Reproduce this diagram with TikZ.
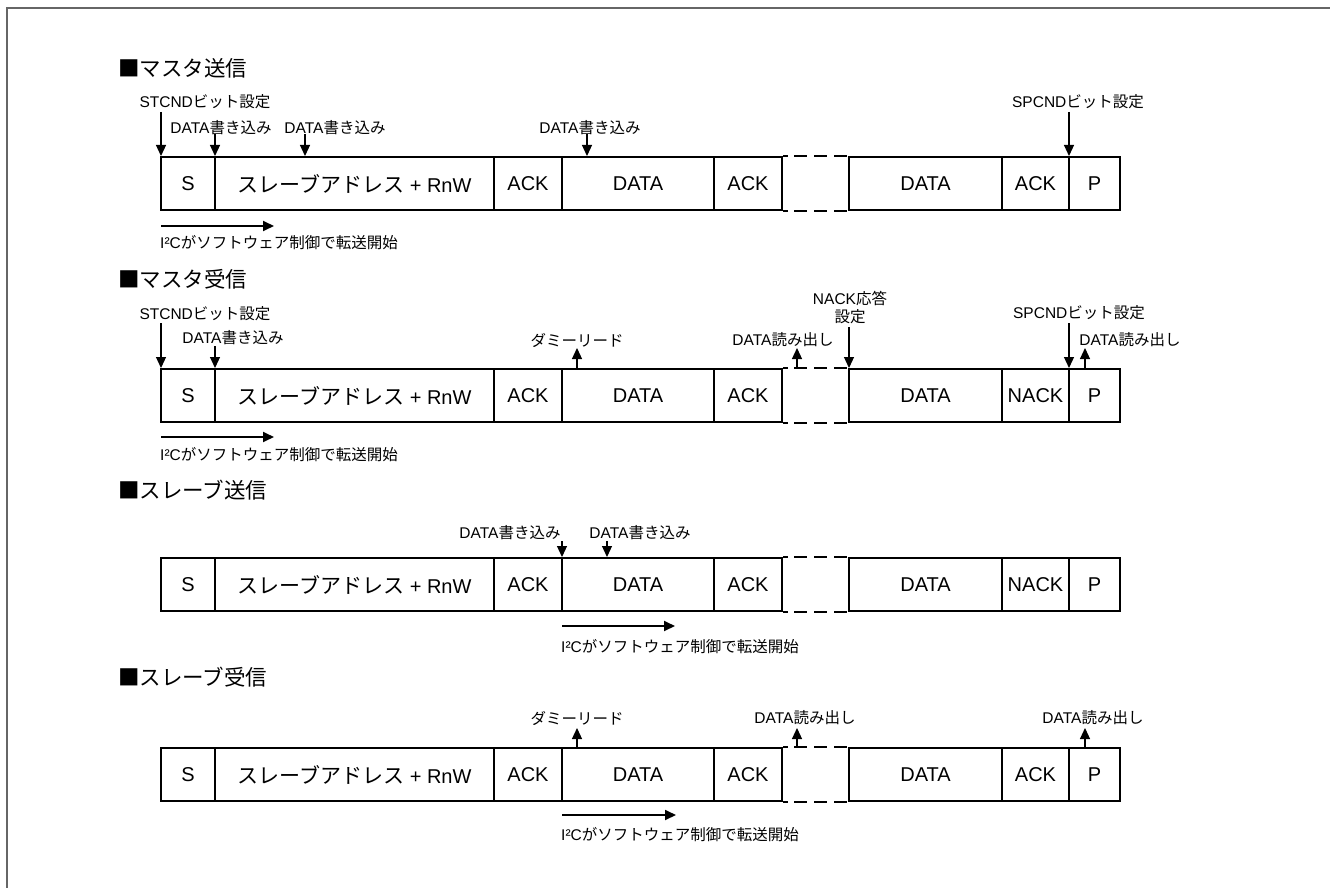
\documentclass[tikz,border=0pt]{standalone}
\usepackage{fontspec}
\setmainfont{Liberation Sans}
\newfontfamily\jp{Noto Sans CJK JP}
\usetikzlibrary{arrows.meta,positioning}
\newcommand{\ja}[1]{{\jp #1}}

\begin{document}
\begin{tikzpicture}[x=1pt, y=-1pt,
    cell/.style={draw, line width=2pt, minimum height=53pt, inner sep=0pt, font=\fontsize{20}{22}\selectfont},
    lbl/.style={inner sep=0pt, font=\fontsize{15.5}{18}\selectfont},
    ttl/.style={inner sep=0pt, anchor=west, font=\jp\fontsize{21.5}{24}\selectfont},
    dn/.style={-{Triangle[width=10pt,length=11pt]}, line width=1.2pt},
    go/.style={-{Triangle[width=10pt,length=11pt]}, line width=1.8pt},
    gap/.style={line width=2pt, dash pattern=on 5pt off 6pt on 13pt off 7pt on 13pt off 7pt on 13pt off 10pt}]
    \useasboundingbox (0,0) rectangle (1330,888);
    \draw[gray!80!black, line width=1.3pt] (7,888) -- (7,8) -- (1330,8);

    % Frame cells of the four rows
    \foreach \r/\y/\n in {1/157/ACK, 2/369/NACK, 3/558/NACK, 4/748/ACK} {
        \node[cell, minimum width=54pt] (s\r) at (188,\y+26.5) {S};
        \node[cell, minimum width=279pt] (ad\r) at (354.5,\y+26.5) {{\jp\fontsize{21}{22}\selectfont スレーブアドレス} + RnW};
        \node[cell, minimum width=68pt] (ka\r) at (528,\y+26.5) {ACK};
        \node[cell, minimum width=152pt] (da\r) at (638,\y+26.5) {DATA};
        \node[cell, minimum width=68pt] (kb\r) at (748,\y+26.5) {ACK};
        \node[cell, minimum width=153pt] (db\r) at (925.5,\y+26.5) {DATA};
        \node[cell, minimum width=67pt, inner xsep=0pt] (kc\r) at (1035.5,\y+26.5) {\n};
        \node[cell, minimum width=51pt] (p\r) at (1094.5,\y+26.5) {P};
        \draw[gap] (kb\r.north east) -- (db\r.north west);
        \draw[gap] (kb\r.south east) -- (db\r.south west);
    }

    % Titles
    \node[ttl] (t1) at (118,68) {■マスタ送信};
    \node[ttl] (t2) at (118,279) {■マスタ受信};
    \node[ttl] (t3) at (118,490) {■スレーブ送信};
    \node[ttl] (t4) at (118,677) {■スレーブ受信};

    % Master transmit
    \node[lbl] (st1) at (205,102) {STCND\ja{ビット設定}};
    \node[lbl] (w1a) at (221,128) {DATA\ja{書き込み}};
    \node[lbl] (w1b) at (335,128) {DATA\ja{書き込み}};
    \node[lbl] (w1c) at (590,128) {DATA\ja{書き込み}};
    \node[lbl] (sp1) at (1078,102) {SPCND\ja{ビット設定}};
    \coordinate (st1a) at (161,112);
    \coordinate (w1aa) at (215,134);
    \coordinate (w1ba) at (305,134);
    \coordinate (w1ca) at (587,134);
    \coordinate (sp1a) at (1069,112);
    \draw[dn] (st1a) -- (st1a |- s1.north);
    \draw[dn] (w1aa) -- (w1aa |- ad1.north);
    \draw[dn] (w1ba) -- (w1ba |- ad1.north);
    \draw[dn] (w1ca) -- (w1ca |- da1.north);
    \draw[dn] (sp1a) -- (sp1a |- p1.north);
    \coordinate (g1a) at (161,226);
    \coordinate (g1b) at (274,226);
    \draw[go] (g1a) -- (g1b);
    \node[lbl, anchor=west] (i1) at (160,243) {I²C\ja{がソフトウェア制御で転送開始}};

    % Master receive
    \node[lbl] (st2) at (205,314) {STCND\ja{ビット設定}};
    \node[lbl] (w2) at (233,338) {DATA\ja{書き込み}};
    \node[lbl] (dm2) at (577,340) {\ja{ダミーリード}};
    \node[lbl] (rd2a) at (783,340) {DATA\ja{読み出し}};
    \node[lbl, align=center] (nk2) at (850,308) {NACK\ja{応答}\\\ja{設定}};
    \node[lbl] (sp2) at (1079,313) {SPCND\ja{ビット設定}};
    \node[lbl] (rd2b) at (1130,340) {DATA\ja{読み出し}};
    \coordinate (st2a) at (161,323);
    \coordinate (w2a) at (215,346);
    \coordinate (dm2a) at (577,348);
    \coordinate (rd2aa) at (797,348);
    \coordinate (nk2a) at (849,327);
    \coordinate (sp2a) at (1069,323);
    \coordinate (rd2ba) at (1085,348);
    \draw[dn] (st2a) -- (st2a |- s2.north);
    \draw[dn] (w2a) -- (w2a |- ad2.north);
    \draw[dn] (dm2a |- da2.north) -- (dm2a);
    \draw[dn] (rd2aa |- kb2.north) -- (rd2aa);
    \draw[dn] (nk2a) -- (nk2a |- db2.north);
    \draw[dn] (sp2a) -- (sp2a |- p2.north);
    \draw[dn] (rd2ba |- p2.north) -- (rd2ba);
    \coordinate (g2a) at (161,437);
    \coordinate (g2b) at (274,437);
    \draw[go] (g2a) -- (g2b);
    \node[lbl, anchor=west] (i2) at (160,455) {I²C\ja{がソフトウェア制御で転送開始}};

    % Slave transmit
    \node[lbl] (w3a) at (510,533) {DATA\ja{書き込み}};
    \node[lbl] (w3b) at (640,533) {DATA\ja{書き込み}};
    \coordinate (w3aa) at (562,541);
    \coordinate (w3ba) at (607,541);
    \draw[dn] (w3aa) -- (w3aa |- da3.north);
    \draw[dn] (w3ba) -- (w3ba |- da3.north);
    \coordinate (g3a) at (562,626);
    \coordinate (g3b) at (675,626);
    \draw[go] (g3a) -- (g3b);
    \node[lbl, anchor=west] (i3) at (561,647) {I²C\ja{がソフトウェア制御で転送開始}};

    % Slave receive
    \node[lbl] (dm4) at (577,718) {\ja{ダミーリード}};
    \node[lbl] (rd4a) at (805,718) {DATA\ja{読み出し}};
    \node[lbl] (rd4b) at (1093,718) {DATA\ja{読み出し}};
    \coordinate (dm4a) at (577,728);
    \coordinate (rd4aa) at (797,728);
    \coordinate (rd4ba) at (1085,728);
    \draw[dn] (dm4a |- da4.north) -- (dm4a);
    \draw[dn] (rd4aa |- kb4.north) -- (rd4aa);
    \draw[dn] (rd4ba |- p4.north) -- (rd4ba);
    \coordinate (g4a) at (562,815);
    \coordinate (g4b) at (676,815);
    \draw[go] (g4a) -- (g4b);
    \node[lbl, anchor=west] (i4) at (561,835) {I²C\ja{がソフトウェア制御で転送開始}};
\end{tikzpicture}
\end{document}
